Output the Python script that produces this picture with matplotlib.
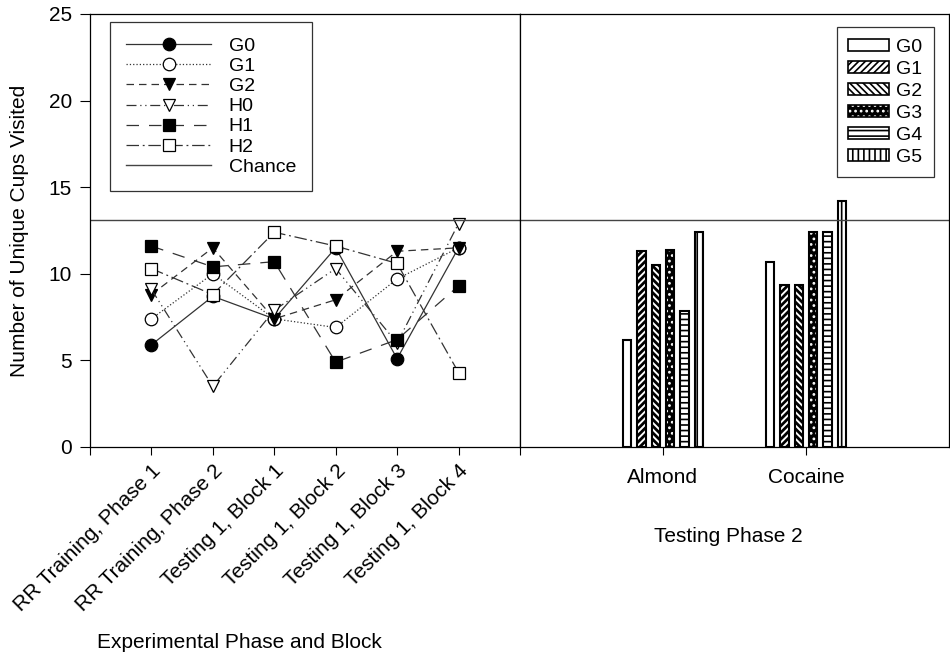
import numpy as np
import matplotlib.pyplot as plt
from matplotlib.patches import Patch

plt.rcParams['font.family'] = ['Liberation Sans', 'DejaVu Sans']
plt.rcParams['hatch.linewidth'] = 1.2

# left panel: line data
phases = ["RR Training, Phase 1", "RR Training, Phase 2", "Testing 1, Block 1",
          "Testing 1, Block 2", "Testing 1, Block 3", "Testing 1, Block 4"]
g0 = [5.9, 8.7, 7.4, 11.5, 5.1, 11.5]
g1 = [7.4, 10.0, 7.4, 6.9, 9.7, 11.5]
g2 = [8.8, 11.5, 7.4, 8.5, 11.3, 11.5]
h0 = [9.1, 3.5, 7.9, 10.3, 6.0, 12.9]
h1 = [11.6, 10.4, 10.7, 4.9, 6.2, 9.3]
h2 = [10.3, 8.8, 12.4, 11.6, 10.6, 4.3]
chance = 13.1

# right panel: bar data
odors = ["Almond", "Cocaine"]
bar_groups = ["G0", "G1", "G2", "G3", "G4", "G5"]
almond = [6.2, 11.3, 10.5, 11.4, 7.85, 12.4]
cocaine = [10.7, 9.35, 9.35, 12.4, 12.4, 14.2]

fig = plt.figure(figsize=(9.5, 6.59), dpi=100)
ax1 = fig.add_axes([0.0947, 0.3217, 0.4526, 0.6571])
ax2 = fig.add_axes([0.5473, 0.3217, 0.4516, 0.6571], sharey=ax1)

x = np.arange(1, len(phases) + 1)
lc = '#333333'
series = [
    ("G0", g0, 'o', 'k', '-'),
    ("G1", g1, 'o', 'w', ':'),
    ("G2", g2, 'v', 'k', (0, (6, 4))),
    ("H0", h0, 'v', 'w', (0, (8, 3, 1, 3, 1, 3))),
    ("H1", h1, 's', 'k', (0, (10, 8))),
    ("H2", h2, 's', 'w', (0, (10, 3, 1.5, 3))),
]
for name, vals, mk, fc, ls in series:
    ax1.plot(x, vals, linestyle=ls, color=lc, lw=0.9, marker=mk, markersize=9,
             markerfacecolor=fc, markeredgecolor='k', markeredgewidth=0.9, label=name)
ax1.axhline(chance, color='#444444', lw=1.0, label="Chance")
ax2.axhline(chance, color='#444444', lw=1.0)

ax1.set_xlim(0, 7)
ax1.set_ylim(0, 25)
ax1.set_yticks([0, 5, 10, 15, 20, 25])
ax1.set_xticks(np.arange(0, 8))
ax1.set_xticklabels([""] + phases + [""], rotation=45, ha='right',
                    rotation_mode='anchor', fontsize=15)
ax1.tick_params(axis='y', labelsize=15, direction='out', length=7, pad=6)
ax1.tick_params(axis='x', direction='out', length=6, pad=4)
ax1.set_ylabel("Number of Unique Cups Visited", fontsize=15, labelpad=14)
leg1 = ax1.legend(loc='upper left', bbox_to_anchor=(0.047, 0.982), numpoints=1,
                  handlelength=4.4, fontsize=14, frameon=True, fancybox=False,
                  edgecolor='k', borderpad=0.8, labelspacing=0.13, handletextpad=0.9,
                  borderaxespad=0)
leg1.get_frame().set_linewidth(0.9)

# bars
hatches = ['', '/////', '\\\\\\\\\\', '...', '---', '|||']
dense = {"G1", "G2"}
slot = 0.1
bw = 0.058
xb = np.arange(1, len(odors) + 1)
for i, name in enumerate(bar_groups):
    vals = [almond[i], cocaine[i]]
    pos = xb + (i - 2.5) * slot
    with plt.rc_context({'hatch.linewidth': 2.0 if name in dense else 1.2}):
        if name == "G3":
            # dark bar with white dots
            ax2.bar(pos, vals, width=bw, facecolor='k', edgecolor='w',
                    linewidth=0, hatch=hatches[i])
            ax2.bar(pos, vals, width=bw, fill=False, edgecolor='k', linewidth=1.5)
        else:
            ax2.bar(pos, vals, width=bw, facecolor='white', edgecolor='k',
                    linewidth=1.5, hatch=hatches[i])
ax2.set_xlim(0, 3)
ax2.set_xticks(xb)
ax2.set_xticklabels(odors, fontsize=15)
ax2.tick_params(axis='y', left=False, labelleft=False)
ax2.tick_params(axis='x', direction='out', length=6, pad=9)

handles = []
for name, h in zip(bar_groups, hatches):
    with plt.rc_context({'hatch.linewidth': 2.0 if name in dense else 1.2}):
        if name == "G3":
            handles.append((Patch(facecolor='k', edgecolor='w', linewidth=0, hatch=h),
                            Patch(fill=False, edgecolor='k', linewidth=1.2)))
        else:
            handles.append(Patch(facecolor='white', edgecolor='k', linewidth=1.2, hatch=h))
leg2 = ax2.legend(handles, bar_groups, loc='upper right', bbox_to_anchor=(0.965, 0.97),
                  fontsize=14, frameon=True, fancybox=False, edgecolor='k',
                  handlelength=2.1, handleheight=0.62, borderpad=0.6,
                  labelspacing=0.25, handletextpad=0.35, borderaxespad=0)
leg2.get_frame().set_linewidth(0.9)

for ax in (ax1, ax2):
    for s in ax.spines.values():
        s.set_linewidth(0.9)

fig.text(97 / 950, 1 - 642 / 659, "Experimental Phase and Block", fontsize=15,
         ha='left', va='center')
fig.text(728 / 950, 1 - 537 / 659, "Testing Phase 2", fontsize=15,
         ha='center', va='center')

fig.savefig("out.png", dpi=100)
